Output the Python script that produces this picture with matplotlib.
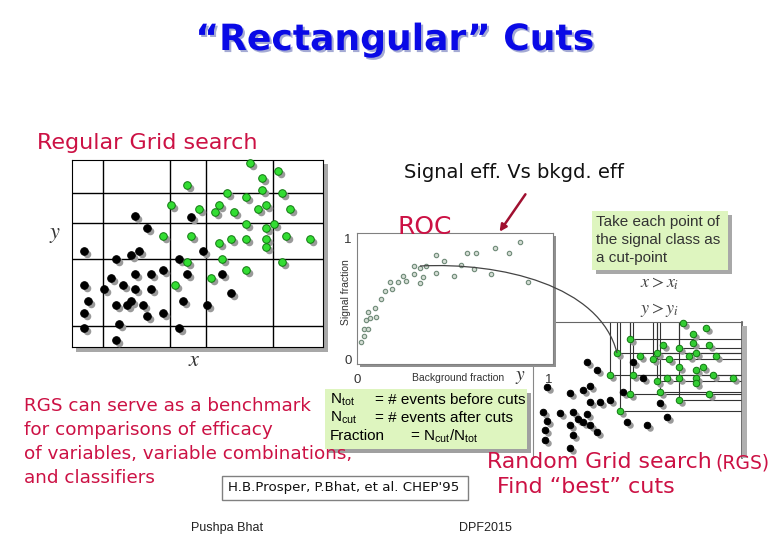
import matplotlib
matplotlib.use("Agg")
import matplotlib.pyplot as plt
import matplotlib.patheffects as pe
from matplotlib import transforms
from matplotlib.patches import Rectangle, PathPatch, FancyArrowPatch
from matplotlib.path import Path

plt.rcParams['mathtext.fontset'] = 'stix'

W, H = 780, 540
CRIMSON = '#cc1144'
GREEN_BOX = '#def5bf'
COMIC = 'DejaVu Sans'
ARIAL = 'Liberation Sans'

# ---- Regular grid search panel (0-100 units inside box)
grid_green_x = [71.1, 82.1, 75.8, 45.7, 75.8, 61.6, 83.7, 69.5, 39.5, 58.4, 77.2, 50.7,
                74.3, 56.8, 64.6, 86.8, 69.5, 80.5, 77.2, 36.4, 47.3, 85.4, 63.2, 69.5,
                77.2, 94.7, 58.4, 77.2, 59.9, 45.7, 83.7, 69.5, 55.2, 41.1]
grid_green_y = [98.6, 94.3, 90.4, 86.4, 84.1, 82.1, 82.1, 80.0, 76.1, 76.1, 76.1, 73.9,
                73.9, 72.0, 72.0, 73.9, 65.7, 65.7, 63.6, 59.6, 59.6, 59.6, 57.5, 57.5,
                57.5, 57.5, 55.4, 53.6, 47.1, 45.4, 45.2, 41.1, 37.0, 32.9]
grid_black_x = [25.2, 47.3, 29.8, 4.6, 26.8, 52.1, 23.6, 17.4, 42.6, 36.3, 25.2, 31.5,
                45.7, 59.9, 15.6, 20.5, 4.6, 12.6, 25.2, 31.5, 63.2, 6.4, 44.1, 23.6,
                17.4, 22.1, 28.3, 53.6, 4.6, 36.3, 29.8, 18.9, 4.6, 42.6, 17.4]
grid_black_y = [70.0, 69.6, 63.6, 51.4, 51.4, 51.4, 49.3, 47.1, 47.1, 41.1, 38.9, 38.9,
                38.9, 38.9, 37.0, 32.9, 32.9, 30.9, 30.9, 30.9, 28.8, 24.6, 24.6, 24.6,
                22.7, 22.7, 22.7, 22.7, 18.4, 18.4, 16.6, 12.3, 10.4, 10.4, 3.9]
grid_vlines = [12.2, 39.1, 53.2, 80.1]
grid_hlines = [82.1, 66.1, 47.3, 11.1]

# ---- ROC points (background fraction, signal fraction)
roc_bkg = [0.023, 0.035, 0.035, 0.055, 0.045, 0.055, 0.069, 0.092, 0.097, 0.127, 0.147,
           0.173, 0.182, 0.211, 0.239, 0.256, 0.295, 0.298, 0.329, 0.326, 0.343, 0.360,
           0.412, 0.409, 0.454, 0.503, 0.541, 0.572, 0.620, 0.607, 0.698, 0.718, 0.790,
           0.846, 0.891]
roc_sig = [0.146, 0.193, 0.251, 0.251, 0.325, 0.394, 0.344, 0.427, 0.347, 0.501, 0.565,
           0.642, 0.581, 0.642, 0.689, 0.647, 0.771, 0.705, 0.752, 0.628, 0.683, 0.771,
           0.862, 0.716, 0.813, 0.689, 0.780, 0.882, 0.882, 0.744, 0.705, 0.923, 0.876,
           0.967, 0.636]

# ---- Random grid search panel
rgs_green_x = [73.3, 83.8, 77.8, 49.5, 64.3, 77.8, 85.3, 71.8, 43.5, 54.1, 61.6, 59.8,
               67.3, 76.3, 79.3, 88.3, 71.8, 82.3, 79.3, 40.5, 51.1, 66.1, 71.8, 79.3,
               86.8, 95.8, 61.6, 79.3, 49.5, 63.1, 85.3, 71.8, 45.0]
rgs_green_y = [99.0, 95.2, 91.0, 87.0, 82.7, 84.5, 82.7, 80.7, 76.4, 74.4, 76.4, 71.9,
               71.9, 74.4, 76.4, 74.4, 66.4, 66.4, 63.9, 60.2, 60.2, 57.6, 57.6, 57.6,
               60.2, 57.6, 55.6, 53.9, 45.6, 47.6, 45.6, 41.4, 33.1]
rgs_black_x = [30.0, 51.1, 34.5, 55.6, 12.0, 31.5, 28.5, 22.5, 46.5, 10.5, 31.5, 36.0,
               40.5, 63.1, 12.0, 18.0, 24.0, 30.0, 26.3, 28.5, 11.3, 22.5, 31.5, 48.0,
               66.1, 57.1, 11.3, 24.0, 34.5, 22.5]
rgs_black_y = [70.2, 70.2, 63.9, 57.6, 51.4, 51.9, 48.9, 46.9, 47.6, 32.6, 39.6, 39.6,
               41.4, 39.3, 25.6, 31.3, 32.6, 30.6, 26.8, 25.1, 18.8, 22.6, 22.6, 25.1,
               28.8, 22.6, 11.3, 15.0, 17.5, 5.0]
# green points used as cut-points
cut_idx = [3, 7, 8, 10, 11, 19, 20, 26, 28, 29, 31, 32]


def box(x0, y0, x1, y1):
    return [x0 / W, 1 - y1 / H, (x1 - x0) / W, (y1 - y0) / H]


def rect(x0, y0, x1, y1, **kw):
    r = Rectangle((x0 / W, 1 - y1 / H), (x1 - x0) / W, (y1 - y0) / H,
                  transform=fig.transFigure, **kw)
    fig.add_artist(r)
    return r


def txt(x, y, s, **kw):
    kw.setdefault('va', 'center')
    return fig.text(x / W, 1 - y / H, s, **kw)


def dots(ax, xs, ys, face, edge, s=30):
    shadow = transforms.offset_copy(ax.transData, fig=fig, x=3, y=-3, units='dots')
    ax.scatter(xs, ys, s=s, c='#9a9a9a', linewidths=0, transform=shadow,
               clip_on=False, zorder=3)
    ax.scatter(xs, ys, s=s, c=face, edgecolors=edge, linewidths=0.7,
               clip_on=False, zorder=4)


fig = plt.figure(figsize=(7.8, 5.4), dpi=100)

# title with soft shadow
txt(395, 40, '\u201cRectangular\u201d Cuts', ha='center', fontsize=26,
    fontweight='bold', color='#0a0ae6', family=COMIC, zorder=5,
    path_effects=[pe.SimplePatchShadow(offset=(1.5, -1.5), shadow_rgbFace='#a4aad4',
                                       alpha=1), pe.Normal()])

txt(37, 143, 'Regular Grid search', fontsize=16, color=CRIMSON, family=COMIC)

# left: regular grid
rect(76, 164, 328, 352, color='#a8a8a8', zorder=1, lw=0)
ax1 = fig.add_axes(box(72, 160, 323, 347))
ax1.set_zorder(2)
ax1.set_xlim(0, 100)
ax1.set_ylim(0, 100)
ax1.set_xticks([])
ax1.set_yticks([])
for v in grid_vlines:
    ax1.axvline(v, color='black', lw=1, zorder=1)
for h in grid_hlines:
    ax1.axhline(h, color='black', lw=1, zorder=1)
dots(ax1, grid_black_x, grid_black_y, 'black', 'black')
dots(ax1, grid_green_x, grid_green_y, '#33dd33', '#117711')
txt(55, 235, '$y$', ha='center', fontsize=16, color='#333333')
txt(194, 360, '$x$', ha='center', fontsize=16, color='#333333')

# right: random grid search
ax3 = fig.add_axes(box(533, 322, 742, 458))
ax3.set_zorder(2)
ax3.set_xlim(5.86, 100)
ax3.set_ylim(-2.3, 100)
ax3.set_xticks([])
ax3.set_yticks([])
ax3.spines['bottom'].set_visible(False)
ax3.spines['left'].set_color('#888888')
ax3.spines['top'].set_color('#666666')
ax3.spines['right'].set_color('#555555')
ax3.spines['right'].set_linewidth(1.2)
for i in cut_idx:
    xc, yc = rgs_green_x[i], rgs_green_y[i]
    ax3.plot([xc, xc], [yc, 100], color='#333333', lw=0.8, zorder=1)
    ax3.plot([xc, 100], [yc, yc], color='#333333', lw=0.8, zorder=1)
dots(ax3, rgs_black_x, rgs_black_y, 'black', 'black', s=22)
dots(ax3, rgs_green_x, rgs_green_y, '#33cc33', '#117711', s=22)
rect(742, 326, 747, 458, color='#b0b0b0', lw=0, zorder=2.5)

# ROC
rect(360, 236, 556, 367, color='#909090', lw=0, zorder=3)
ax2 = fig.add_axes(box(357, 233, 553, 364))
ax2.set_zorder(4)
ax2.set_xlim(0, 1.02)
ax2.set_ylim(-0.039, 1.044)
for sp in ax2.spines.values():
    sp.set_color('#808080')
ax2.set_xticks([0, 1])
ax2.set_xticklabels(['0', '1'])
ax2.set_yticks([0, 1])
ax2.set_yticklabels(['0', '1'])
ax2.tick_params(length=0, labelsize=9.5, labelcolor='#333333')
ax2.tick_params(axis='x', pad=7)
ax2.tick_params(axis='y', pad=4)
for lab in ax2.get_xticklabels() + ax2.get_yticklabels():
    lab.set_family(ARIAL)
ax2.scatter(roc_bkg, roc_sig, s=10, facecolors='#d4ddd4', edgecolors='#6f8a78',
            linewidths=0.8, zorder=3)
txt(458, 378, 'Background fraction', ha='center', fontsize=7.5,
    color='#333333', family=ARIAL)
txt(346, 292, 'Signal fraction', ha='center', fontsize=7.5, rotation=90,
    color='#333333', family=ARIAL)
txt(520, 376, '$y$', ha='center', fontsize=14, color='#333333')

# curve from ROC point to the cut-point
pts = [(420, 266), (500, 262), (600, 285), (617, 353)]
verts = [(x / W, 1 - y / H) for x, y in pts]
curve = PathPatch(Path(verts, [Path.MOVETO, Path.CURVE4, Path.CURVE4, Path.CURVE4]),
                  fill=False, edgecolor='#444444', lw=0.9, transform=fig.transFigure,
                  zorder=10)
fig.add_artist(curve)

txt(404, 172, 'Signal eff. Vs bkgd. eff', fontsize=14, color='#111111', family=COMIC)
txt(398, 227, 'ROC', fontsize=18, color=CRIMSON, family=COMIC, zorder=8)
fig.add_artist(FancyArrowPatch(
    (527 / W, 1 - 192 / H), (498 / W, 1 - 234 / H), transform=fig.transFigure,
    arrowstyle='-|>', mutation_scale=10, color='#a01030', lw=1.8, zorder=10))

# note box
rect(596, 215, 732, 274, color='#a8a8a8', lw=0, zorder=5)
rect(592, 211, 728, 270, color=GREEN_BOX, lw=0, zorder=6)
for k, line in enumerate(['Take each point of', 'the signal class as', 'a cut-point']):
    txt(596, 222 + 18 * k, line, fontsize=11, color='#333333', family=ARIAL, zorder=7)
txt(660, 283, '$x > x_i$', ha='center', fontsize=13, color='#444444')
txt(660, 310, '$y > y_i$', ha='center', fontsize=13, color='#444444')

# formula box
rect(329, 393, 531, 453, color='#a0a0a0', lw=0, zorder=5)
rect(325, 389, 527, 449, color=GREEN_BOX, lw=0, zorder=6)
txt(330, 400, r'N$_{\mathregular{tot}}$', fontsize=11, family=ARIAL, zorder=7)
txt(375, 400, '= # events before cuts', fontsize=11, family=ARIAL, zorder=7)
txt(330, 418, r'N$_{\mathregular{cut}}$', fontsize=11, family=ARIAL, zorder=7)
txt(375, 418, '= # events after cuts', fontsize=11, family=ARIAL, zorder=7)
txt(330, 436, 'Fraction', fontsize=11, family=ARIAL, zorder=7)
txt(410, 436, r'= N$_{\mathregular{cut}}$/N$_{\mathregular{tot}}$', fontsize=11,
    family=ARIAL, zorder=7)

# left text
rgs_lines = ['RGS can serve as a benchmark', 'for comparisons of efficacy',
             'of variables, variable combinations,', 'and classifiers']
for k, line in enumerate(rgs_lines):
    txt(24, 406 + 24 * k, line, fontsize=13.2, color=CRIMSON, family=COMIC, zorder=8)

rect(222, 476, 468, 500, facecolor='white', edgecolor='#808080', lw=1, zorder=5)
txt(344, 488, "H.B.Prosper, P.Bhat, et al. CHEP'95", ha='center', fontsize=9.6,
    color='#111111', family=COMIC, zorder=6)

txt(487, 462, 'Random Grid search', fontsize=15.8, color=CRIMSON, family=COMIC, zorder=8)
txt(715, 463, '(RGS)', fontsize=13.5, color=CRIMSON, family=COMIC, zorder=8)
txt(497, 487, 'Find \u201cbest\u201d cuts', fontsize=16, color=CRIMSON, family=COMIC, zorder=8)

txt(227, 528, 'Pushpa Bhat', ha='center', fontsize=9, color='#222222', family=ARIAL)
txt(485, 528, 'DPF2015', ha='center', fontsize=9, color='#222222', family=ARIAL)

fig.savefig('out.png', dpi=100)
